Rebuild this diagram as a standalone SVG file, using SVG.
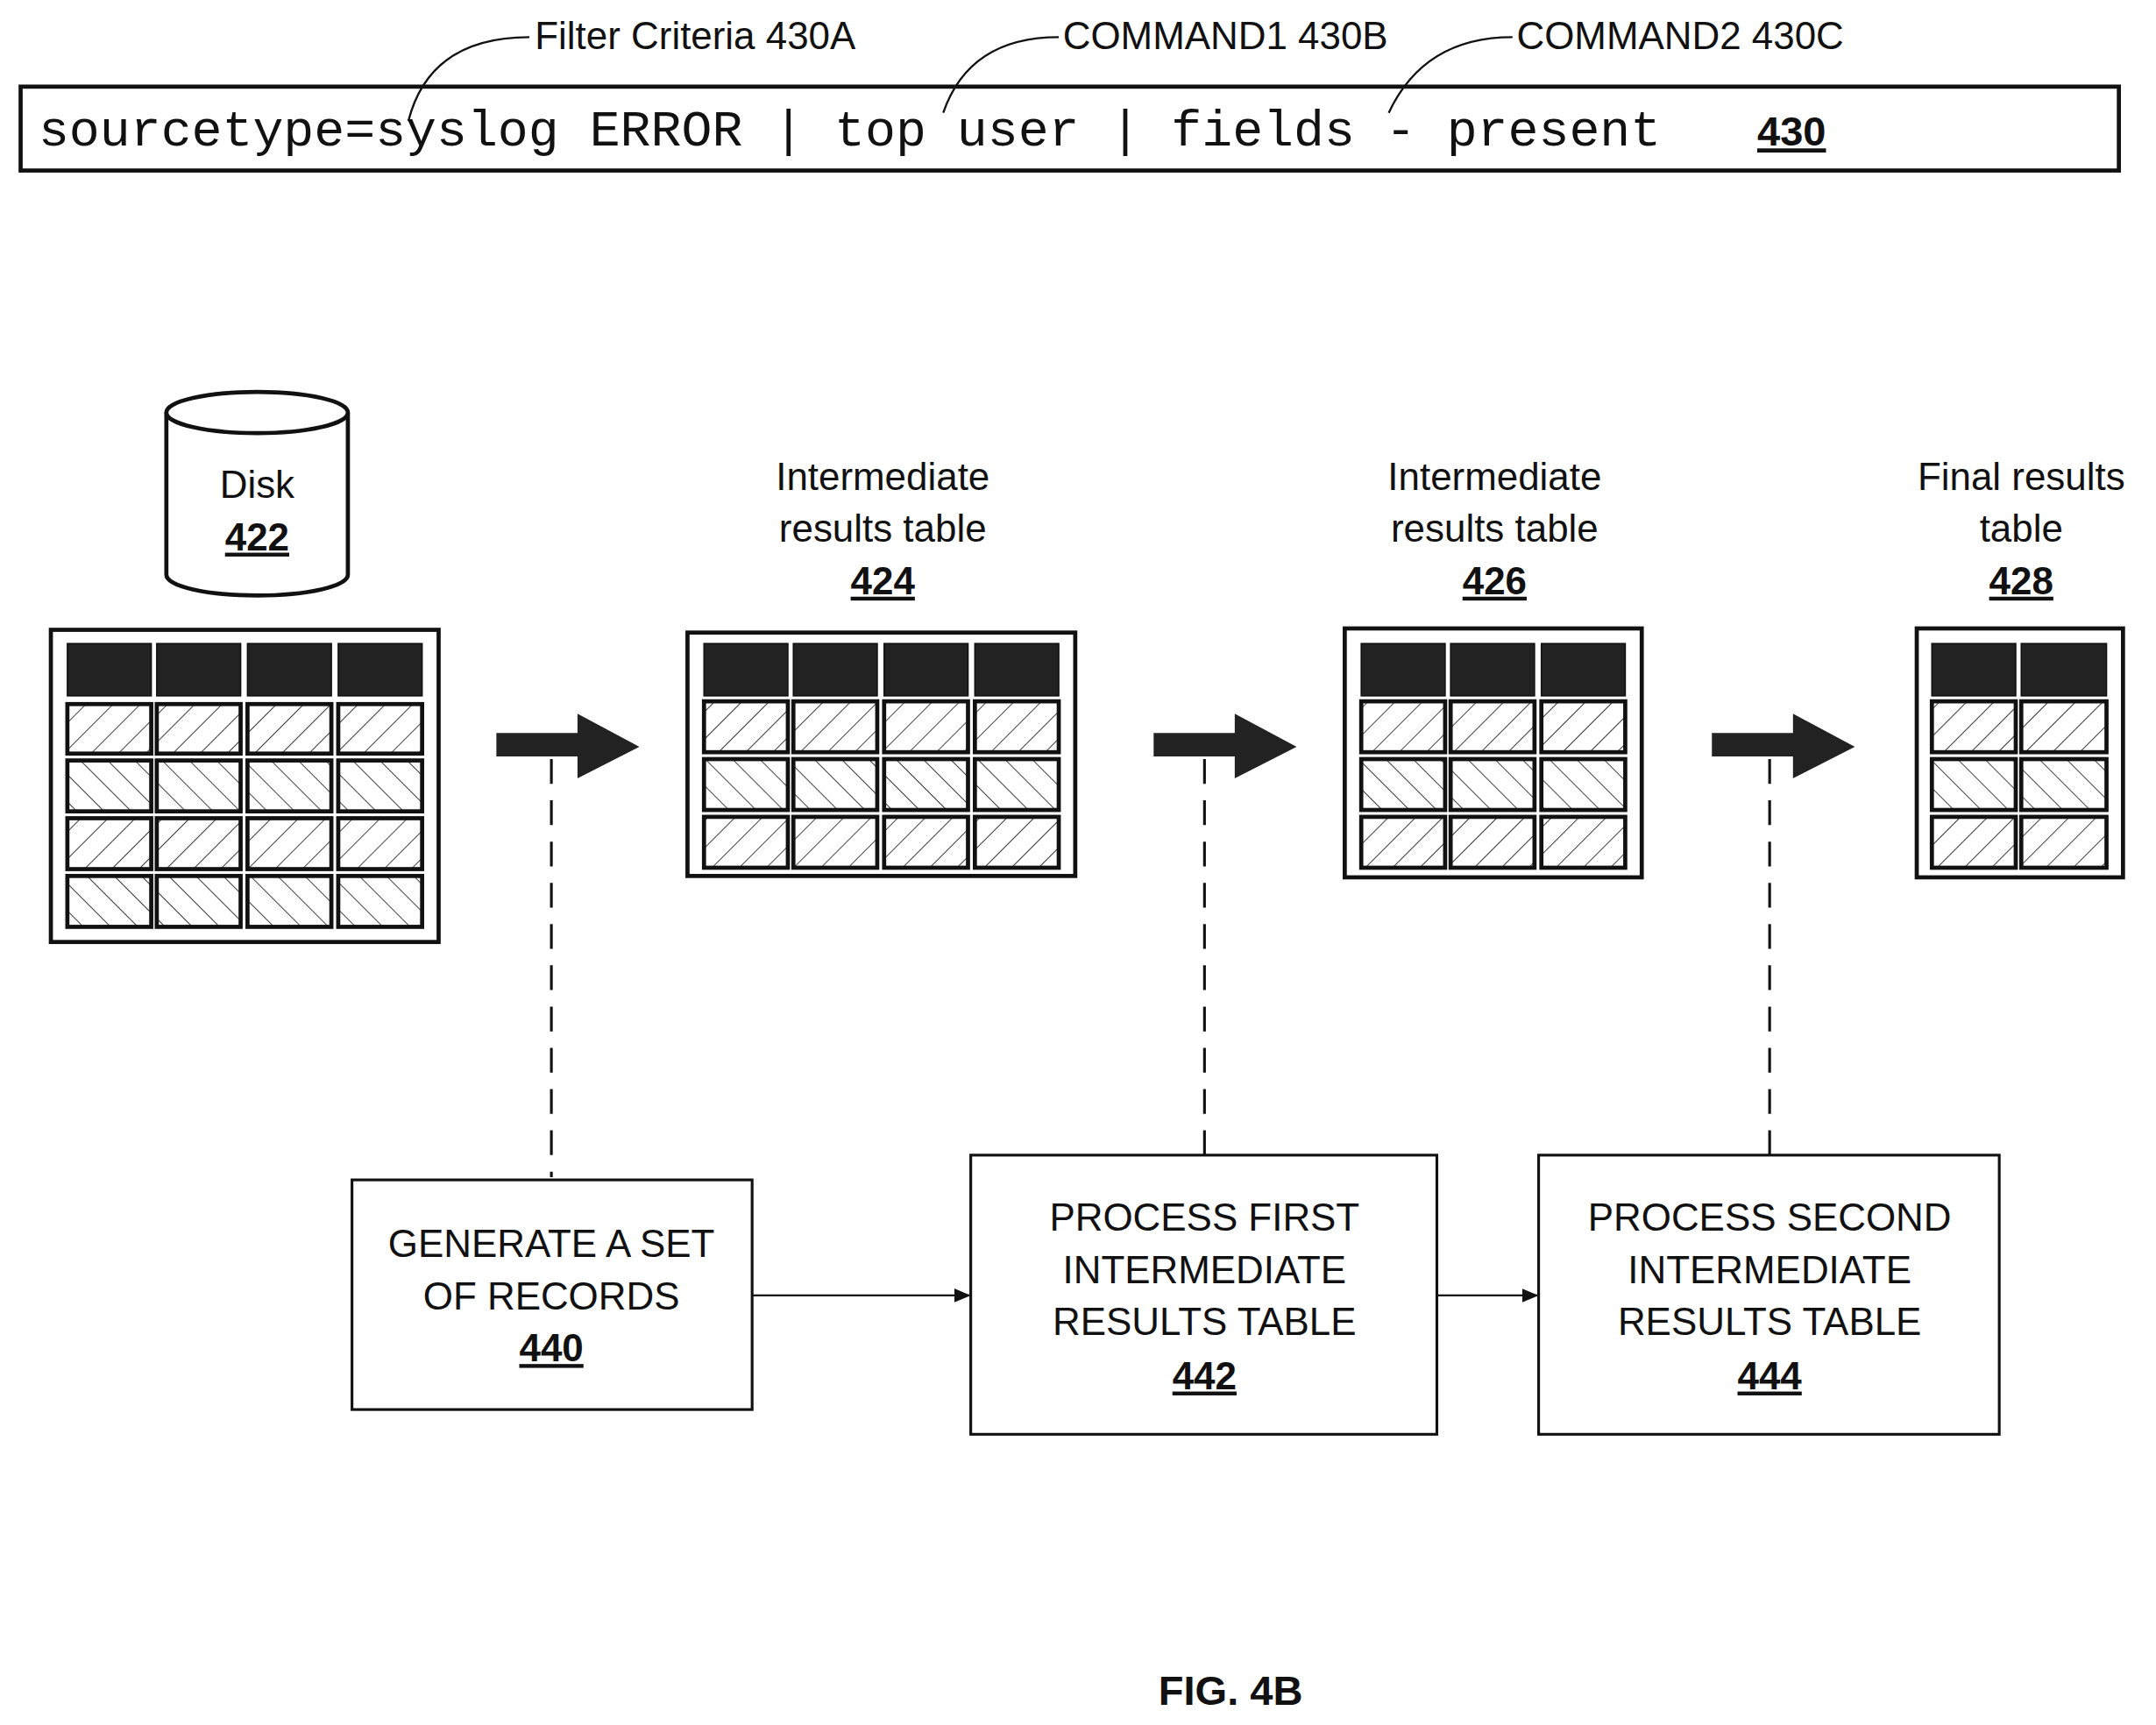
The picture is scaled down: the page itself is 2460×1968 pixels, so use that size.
<svg xmlns="http://www.w3.org/2000/svg" width="2460" height="1968" viewBox="0 0 2460 1968">
<style>
.t{font-family:"Liberation Sans",Arial,sans-serif;font-size:28px;fill:#111}
.b{font-weight:bold;text-decoration:underline}
.m{font-family:"Liberation Mono","Courier New",monospace;font-size:36px;fill:#111}
.o{fill:#fff;stroke:#111;stroke-width:3}
.h{fill:#222;stroke:#111;stroke-width:1}
.f{fill:url(#pf);stroke:#111;stroke-width:3}
.k{fill:url(#pb);stroke:#111;stroke-width:3}
.ln{fill:none;stroke:#111;stroke-width:1.5}
.ds{fill:none;stroke:#111;stroke-width:2;stroke-dasharray:18,12}
.bx{fill:#fff;stroke:#111;stroke-width:2}
</style>
<defs>
<pattern id="pf" width="14" height="14" patternUnits="userSpaceOnUse" patternTransform="rotate(45)"><rect width="14" height="14" fill="#fff"/><line x1="0" y1="0" x2="0" y2="14" stroke="#333" stroke-width="1.2"/></pattern>
<pattern id="pb" width="14" height="14" patternUnits="userSpaceOnUse" patternTransform="rotate(-45)"><rect width="14" height="14" fill="#fff"/><line x1="0" y1="0" x2="0" y2="14" stroke="#333" stroke-width="1.2"/></pattern>
<marker id="ar" markerWidth="12" markerHeight="10" refX="11" refY="5" orient="auto" markerUnits="userSpaceOnUse"><path d="M0,0 L12,5 L0,10 Z" fill="#111"/></marker>
</defs>
<rect width="2460" height="1968" fill="#fff"/>
<g transform="scale(1.56888)">
<g id="query">
<rect x="15" y="63" width="1526" height="61" class="o"/>
<text x="28" y="106" class="m" textLength="1180" lengthAdjust="spacingAndGlyphs">sourcetype=syslog ERROR | top user | fields - present</text>
<text x="1303" y="106" class="t b" text-anchor="middle" style="font-size:30px">430</text>
</g>
<g id="labels">
<text x="389" y="36" class="t">Filter Criteria 430A</text>
<text x="773" y="36" class="t">COMMAND1 430B</text>
<text x="1103" y="36" class="t">COMMAND2 430C</text>
</g>
<g id="disk">
<path d="M121,300 L121,418 A66,15 0 0 0 253,418 L253,300" class="o" stroke-width="2"/>
<ellipse cx="187" cy="300" rx="66" ry="15" class="o" stroke-width="2"/>
<text x="187" y="362" class="t" text-anchor="middle">Disk</text>
<text x="187" y="400" class="t b" text-anchor="middle">422</text>
</g>
<g id="table422">
<rect x="37" y="458" width="282" height="227" class="o"/>
<g class="h"><rect x="49" y="468" width="61" height="38"/><rect x="114" y="468" width="61" height="38"/><rect x="180" y="468" width="61" height="38"/><rect x="246" y="468" width="61" height="38"/></g>
<g class="f"><rect x="49" y="512" width="61" height="36"/><rect x="114" y="512" width="61" height="36"/><rect x="180" y="512" width="61" height="36"/><rect x="246" y="512" width="61" height="36"/></g>
<g class="k"><rect x="49" y="553" width="61" height="37"/><rect x="114" y="553" width="61" height="37"/><rect x="180" y="553" width="61" height="37"/><rect x="246" y="553" width="61" height="37"/></g>
<g class="f"><rect x="49" y="595" width="61" height="37"/><rect x="114" y="595" width="61" height="37"/><rect x="180" y="595" width="61" height="37"/><rect x="246" y="595" width="61" height="37"/></g>
<g class="k"><rect x="49" y="637" width="61" height="37"/><rect x="114" y="637" width="61" height="37"/><rect x="180" y="637" width="61" height="37"/><rect x="246" y="637" width="61" height="37"/></g>
</g>
<g id="table424">
<text x="642" y="356" class="t" text-anchor="middle">Intermediate</text>
<text x="642" y="394" class="t" text-anchor="middle">results table</text>
<text x="642" y="432" class="t b" text-anchor="middle">424</text>
<rect x="500" y="460" width="282" height="177" class="o"/>
<g class="h"><rect x="512" y="468" width="61" height="38"/><rect x="577" y="468" width="61" height="38"/><rect x="643" y="468" width="61" height="38"/><rect x="709" y="468" width="61" height="38"/></g>
<g class="f"><rect x="512" y="510" width="61" height="37"/><rect x="577" y="510" width="61" height="37"/><rect x="643" y="510" width="61" height="37"/><rect x="709" y="510" width="61" height="37"/></g>
<g class="k"><rect x="512" y="552" width="61" height="37"/><rect x="577" y="552" width="61" height="37"/><rect x="643" y="552" width="61" height="37"/><rect x="709" y="552" width="61" height="37"/></g>
<g class="f"><rect x="512" y="594" width="61" height="37"/><rect x="577" y="594" width="61" height="37"/><rect x="643" y="594" width="61" height="37"/><rect x="709" y="594" width="61" height="37"/></g>
</g>
<g id="table426">
<text x="1087" y="356" class="t" text-anchor="middle">Intermediate</text>
<text x="1087" y="394" class="t" text-anchor="middle">results table</text>
<text x="1087" y="432" class="t b" text-anchor="middle">426</text>
<rect x="978" y="457" width="216" height="181" class="o"/>
<g class="h"><rect x="990" y="468" width="61" height="38"/><rect x="1055" y="468" width="61" height="38"/><rect x="1121" y="468" width="61" height="38"/></g>
<g class="f"><rect x="990" y="510" width="61" height="37"/><rect x="1055" y="510" width="61" height="37"/><rect x="1121" y="510" width="61" height="37"/></g>
<g class="k"><rect x="990" y="552" width="61" height="37"/><rect x="1055" y="552" width="61" height="37"/><rect x="1121" y="552" width="61" height="37"/></g>
<g class="f"><rect x="990" y="594" width="61" height="37"/><rect x="1055" y="594" width="61" height="37"/><rect x="1121" y="594" width="61" height="37"/></g>
</g>
<g id="table428">
<text x="1470" y="356" class="t" text-anchor="middle">Final results</text>
<text x="1470" y="394" class="t" text-anchor="middle">table</text>
<text x="1470" y="432" class="t b" text-anchor="middle">428</text>
<rect x="1394" y="457" width="150" height="181" class="o"/>
<g class="h"><rect x="1405" y="468" width="61" height="38"/><rect x="1470" y="468" width="62" height="38"/></g>
<g class="f"><rect x="1405" y="510" width="61" height="37"/><rect x="1470" y="510" width="62" height="37"/></g>
<g class="k"><rect x="1405" y="552" width="61" height="37"/><rect x="1470" y="552" width="62" height="37"/></g>
<g class="f"><rect x="1405" y="594" width="61" height="37"/><rect x="1470" y="594" width="62" height="37"/></g>
</g>
<g id="box440">
<rect x="256" y="858" width="291" height="167" class="bx"/>
<text x="401" y="914" class="t" text-anchor="middle">GENERATE A SET</text>
<text x="401" y="952" class="t" text-anchor="middle">OF RECORDS</text>
<text x="401" y="990" class="t b" text-anchor="middle">440</text>
</g>
<g id="box442">
<rect x="706" y="840" width="339" height="203" class="bx"/>
<text x="876" y="895" class="t" text-anchor="middle">PROCESS FIRST</text>
<text x="876" y="933" class="t" text-anchor="middle">INTERMEDIATE</text>
<text x="876" y="971" class="t" text-anchor="middle">RESULTS TABLE</text>
<text x="876" y="1010" class="t b" text-anchor="middle">442</text>
</g>
<g id="box444">
<rect x="1119" y="840" width="335" height="203" class="bx"/>
<text x="1287" y="895" class="t" text-anchor="middle">PROCESS SECOND</text>
<text x="1287" y="933" class="t" text-anchor="middle">INTERMEDIATE</text>
<text x="1287" y="971" class="t" text-anchor="middle">RESULTS TABLE</text>
<text x="1287" y="1010" class="t b" text-anchor="middle">444</text>
</g>
<g id="connectors">
<path d="M385,27 C340,27 308,45 297,88" class="ln"/>
<path d="M770,27 C722,27 697,50 686,82" class="ln"/>
<path d="M1100,27 C1052,27 1025,50 1010,82" class="ln"/>
<g fill="#222">
<path d="M361,533 H420 V519 L465,543 L420,566 V550 H361 Z"/>
<path d="M839,533 H898 V519 L943,543 L898,566 V550 H839 Z"/>
<path d="M1245,533 H1304 V519 L1349,543 L1304,566 V550 H1245 Z"/>
</g>
<path d="M401,552 V856" class="ds"/>
<path d="M876,552 V840" class="ds"/>
<path d="M1287,552 V840" class="ds"/>
<path d="M547,942 H705" class="ln" marker-end="url(#ar)"/>
<path d="M1045,942 H1118" class="ln" marker-end="url(#ar)"/>
</g>
<text x="895" y="1240" class="t" text-anchor="middle" style="font-weight:bold;font-size:30px">FIG. 4B</text>
</g>
</svg>
